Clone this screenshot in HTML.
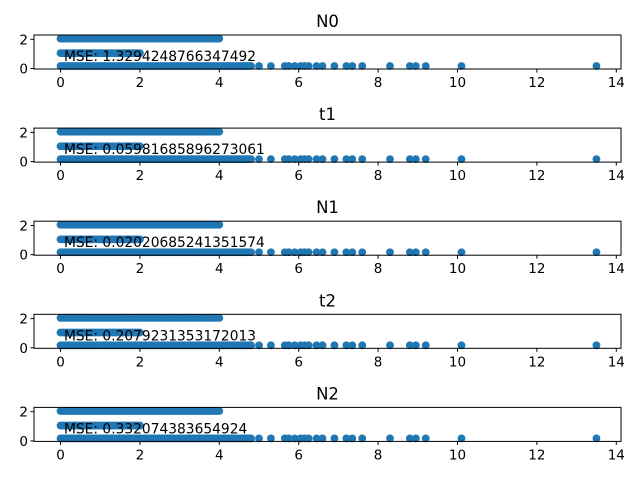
<!DOCTYPE html>
<html><head><meta charset="utf-8"><style>
body{margin:0;background:#fff}
svg{display:block;font-family:"DejaVu Sans","Liberation Sans",sans-serif}
</style></head><body>
<svg id="fig" width="640" height="480" viewBox="0 0 640 480"></svg>
<script>
const titles = ["N0","t1","N1","t2","N2"];
const mseLabels = ["MSE: 1.3294248766347492","MSE: 0.05981685896273061","MSE: 0.02020685241351574","MSE: 0.2079231353172013","MSE: 0.332074383654924"];
const xTicks = [0,2,4,6,8,10,12,14];
const yTicks = [0,2];
const row2X = []; for (let i=0;i<=80;i++) row2X.push(i*0.05);
const row1X = []; for (let i=0;i<=40;i++) row1X.push(i*0.05);
const row0Dense = []; for (let i=0;i<=96;i++) row0Dense.push(i*0.05);
const row0Sparse = [5.0,5.3,5.65,5.75,5.9,6.05,6.15,6.25,6.45,6.6,6.9,7.2,7.35,7.6,8.3,8.8,8.95,9.2,10.1,13.5];
const rowY = [2.05,1.05,0.17];

const NS="http://www.w3.org/2000/svg";
const svg=document.getElementById('fig');
function mk(t,a,p){const e=document.createElementNS(NS,t);for(const k in a)e.setAttribute(k,a[k]);(p||svg).appendChild(e);return e;}
const L=34,R=621,H=34;
const xs=v=>60.5+v*39.7;
for(let p=0;p<5;p++){
  const top=35+p*93.1, bot=top+H;
  const ys=v=>bot-0.5-v*14.6;
  const g=mk('g',{});
  
  
  const pts=[];
  row2X.forEach(x=>pts.push([x,rowY[0]]));
  row1X.forEach(x=>pts.push([x,rowY[1]]));
  row0Dense.concat(row0Sparse).forEach(x=>pts.push([x,rowY[2]]));
  pts.forEach(([x,y])=>{
    const c=mk('circle',{cx:xs(x),cy:ys(y),r:3.9,fill:'#1f77b4'},g);
    
    
  });
  const fr=mk('rect',{x:L,y:top,width:R-L,height:H,fill:'none',stroke:'#000','stroke-width':1},g);
  
  
  xTicks.forEach(t=>{
    mk('line',{x1:xs(t),x2:xs(t),y1:bot,y2:bot+3.5,stroke:'#000'},g);
    const tx=mk('text',{x:xs(t),y:bot+18,'font-size':13.5,'text-anchor':'middle'},g);
    tx.textContent=t;
    
    
  });
  yTicks.forEach(t=>{
    mk('line',{x1:L-3.5,x2:L,y1:ys(t),y2:ys(t),stroke:'#000'},g);
    const tx=mk('text',{x:L-6,y:ys(t)+5,'font-size':13.5,'text-anchor':'end'},g);
    tx.textContent=t;
    
    
  });
  const ti=mk('text',{x:(L+R)/2,y:top-8,'font-size':16.5,'text-anchor':'middle'},g);
  ti.textContent=titles[p];
  
  
  const ms=mk('text',{x:64,y:top+26,'font-size':13.8},g);
  ms.textContent=mseLabels[p];
  
  
}
</script>
</body></html>
